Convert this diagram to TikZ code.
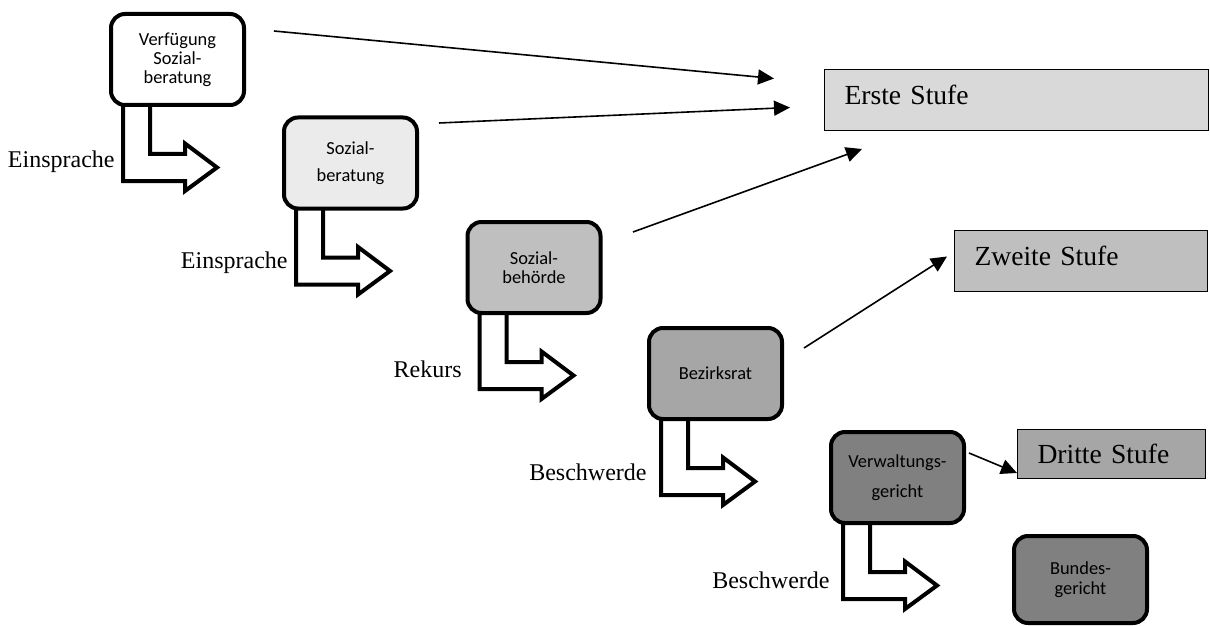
\documentclass[tikz,border=0pt]{standalone}
\usepackage{fontspec}
\setmainfont{Liberation Serif}
\newfontfamily\boxfont{Carlito}
\usetikzlibrary{backgrounds}
\usetikzlibrary{arrows.meta}
\usetikzlibrary{calc}

\tikzset{
  instanz/.style={draw, line width=2pt, rounded corners=7pt, minimum width=66.5pt,
    minimum height=45.5pt, inner sep=0pt, align=center,
    font=\boxfont\fontsize{9.2}{9.5}\selectfont},
  stufe/.style={draw, line width=0.5pt, anchor=north west, inner xsep=10pt,
    inner ysep=0pt, align=left, font=\fontsize{13.8}{16}\selectfont},
  mittel/.style={anchor=base east, inner sep=0pt, font=\fontsize{12}{14}\selectfont},
  bent/.style={draw, fill=white, line width=2pt},
  pfeil/.style={->, >={Triangle[length=8pt, width=7.5pt]}, line width=0.8pt}
}

% hollow bent arrow below an instance box
\newcommand{\bentarrow}[1]{%
  \draw[bent] ($(#1.south west)+(14,-6)$) -- ++(0,80) -- ++(62,0) -- ++(0,10)
    -- ++(32,-23.5) -- ++(-32,-24) -- ++(0,10.5) -- ++(-35,0) -- ++(0,-53);
}

\begin{document}
\begin{tikzpicture}[x=0.5pt, y=-0.5pt]
\useasboundingbox (0,0) rectangle (1210,626);

% instances
\node[instanz, fill=white] (vs) at (177.5,59.5) {Verfügung\\Sozial-\\beratung};
\node[instanz, fill=black!8] (sb) at (350.5,163) {Sozial-\\[4pt]beratung};
\node[instanz, fill=black!25] (sbh) at (534,267.5) {Sozial-\\behörde};
\node[instanz, fill=black!35] (br) at (715.5,373.5) {Bezirksrat};
\node[instanz, fill=black!50] (vg) at (897.5,477.5) {Verwaltungs-\\[5.5pt]gericht};
\node[instanz, fill=black!50, minimum height=43.5pt] (bg) at (1080.5,579.5) {Bundes-\\[0.5pt]gericht};

% levels
\node[stufe, fill=black!15, text width=172pt, text height=17.5pt, text depth=13pt] (erste) at (824,69) {Erste Stufe};
\node[stufe, fill=black!25, text width=106.5pt, text height=17.5pt, text depth=13pt] (zweite) at (954,230) {Zweite Stufe};
\node[stufe, fill=black!35, text width=74pt, text height=17pt, text depth=7.5pt] (dritte) at (1017,429) {Dritte Stufe};

% remedies
\begin{scope}[on background layer]
\bentarrow{vs}
\bentarrow{sb}
\bentarrow{sbh}
\bentarrow{br}
\bentarrow{vg}
\end{scope}
\node[mittel] (m1) at (115,168) {Einsprache};
\node[mittel] (m2) at (288,268) {Einsprache};
\node[mittel] (m3) at (462,377) {Rekurs};
\node[mittel] (m4) at (647,480) {Beschwerde};
\node[mittel] (m5) at (830,588) {Beschwerde};

% assignment to levels
\draw[pfeil] ($(vs.north east)+(28,19)$) -- ($(erste.west)+(-50,-21.5)$);
\draw[pfeil] ($(sb.north east)+(20,7.5)$) -- ($(erste.west)+(-34,7.5)$);
\draw[pfeil] ($(sbh.east)+(30.5,-35.5)$) -- ($(erste.south west)+(38,18)$);
\draw[pfeil] ($(br.north east)+(20,22)$) -- ($(zweite.west)+(-7,-4.5)$);
\draw[pfeil] ($(vg.east)+(3,-24.5)$) -- ($(dritte.south west)+(0,-6)$);
\end{tikzpicture}
\end{document}
